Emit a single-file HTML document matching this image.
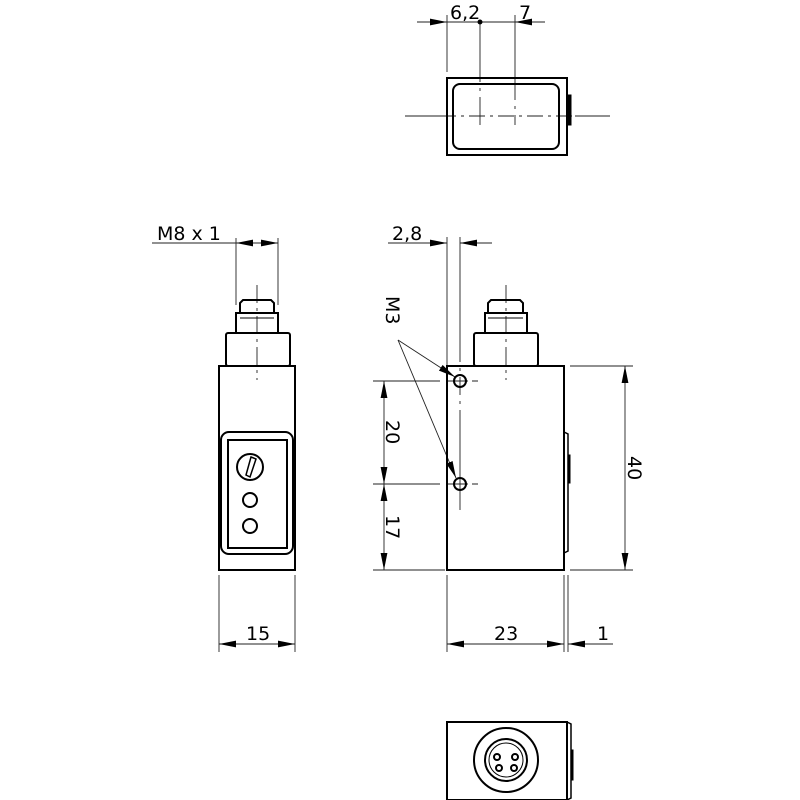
<!DOCTYPE html>
<html><head><meta charset="utf-8"><style>body{margin:0;background:#fff}svg{display:block}text{font-family:"DejaVu Sans","Liberation Sans",sans-serif;font-size:19px;fill:#000}</style></head><body>
<svg width="800" height="800" viewBox="0 0 800 800" xmlns="http://www.w3.org/2000/svg">
<defs>
<marker id="a" viewBox="0 0 10 4" refX="10" refY="2" markerWidth="17" markerHeight="7" markerUnits="userSpaceOnUse" orient="auto-start-reverse"><path d="M0,0L10,2L0,4z" fill="#000"/></marker>
</defs>
<g fill="none" stroke="#000">
<g stroke-width="0.9" stroke="#222">
<line x1="405" y1="116" x2="440" y2="116"/><line x1="575" y1="116" x2="610" y2="116"/>
<line x1="440" y1="116" x2="575" y2="116" stroke-dasharray="16,5,3,5"/>
<line x1="447" y1="15" x2="447" y2="72"/>
<line x1="480" y1="22" x2="480" y2="125" stroke-dasharray="60,6,3,6"/>
<line x1="515" y1="15" x2="515" y2="125" stroke-dasharray="85,6,3,6"/>
<line x1="417" y1="22" x2="447" y2="22" marker-end="url(#a)"/>
<line x1="447" y1="22" x2="515" y2="22"/>
<line x1="545" y1="22" x2="515" y2="22" marker-end="url(#a)"/>
</g>
<circle cx="480" cy="22" r="2.5" fill="#000" stroke="none"/>
<rect x="447" y="78" width="120" height="77" stroke-width="2"/>
<rect x="453" y="84" width="106" height="65" rx="7" stroke-width="2"/>
<rect x="567" y="95" width="4" height="30" fill="#000" stroke-width="1"/>

<g stroke-width="0.9" stroke="#222">
<line x1="257" y1="285" x2="257" y2="380" stroke-dasharray="18,5,3,5"/>
<line x1="236" y1="238" x2="236" y2="305"/><line x1="278" y1="238" x2="278" y2="305"/>
<line x1="152" y1="243" x2="236" y2="243"/>
<line x1="257" y1="243" x2="236" y2="243" marker-end="url(#a)"/>
<line x1="257" y1="243" x2="278" y2="243" marker-end="url(#a)"/>
<line x1="219" y1="575" x2="219" y2="652"/><line x1="295" y1="575" x2="295" y2="652"/>
<line x1="257" y1="644" x2="219" y2="644" marker-end="url(#a)"/>
<line x1="257" y1="644" x2="295" y2="644" marker-end="url(#a)"/>
</g>
<g stroke-width="2">
<path d="M240,313 L240,303 L243,300 L271,300 L274,303 L274,313"/>
<rect x="236" y="313" width="42" height="20"/>
<line x1="240" y1="318" x2="274" y2="318" stroke-width="1"/>
<rect x="226" y="333" width="64" height="33" rx="2"/>
<rect x="219" y="366" width="76" height="204"/>
<rect x="221" y="432" width="72" height="122" rx="8"/>
<rect x="228" y="440" width="59" height="108"/>
<circle cx="250" cy="467" r="13"/>
<circle cx="250" cy="500" r="7"/>
<circle cx="250" cy="526" r="7"/>
</g>
<path d="M251,457 L256,459 L250,477 L246,475 Z" stroke-width="1.5"/>

<g stroke-width="0.9" stroke="#222">
<line x1="506" y1="285" x2="506" y2="380" stroke-dasharray="18,5,3,5"/>
<line x1="447" y1="237" x2="447" y2="366"/>
<line x1="460" y1="237" x2="460" y2="510" stroke-dasharray="125,6,3,6,18,6,3,6"/>
<line x1="388" y1="243" x2="447" y2="243" marker-end="url(#a)"/>
<line x1="492" y1="243" x2="460" y2="243" marker-end="url(#a)"/>
<line x1="373" y1="381" x2="440" y2="381"/><line x1="448" y1="381" x2="478" y2="381" stroke-dasharray="20,4"/>
<line x1="373" y1="484" x2="440" y2="484"/><line x1="448" y1="484" x2="478" y2="484" stroke-dasharray="20,4"/>
<line x1="373" y1="570" x2="445" y2="570"/>
<line x1="384" y1="432" x2="384" y2="381" marker-end="url(#a)"/>
<line x1="384" y1="432" x2="384" y2="484" marker-end="url(#a)"/>
<line x1="384" y1="527" x2="384" y2="484" marker-end="url(#a)"/>
<line x1="384" y1="527" x2="384" y2="570" marker-end="url(#a)"/>
<line x1="570" y1="366" x2="633" y2="366"/><line x1="570" y1="570" x2="633" y2="570"/>
<line x1="625" y1="468" x2="625" y2="366" marker-end="url(#a)"/>
<line x1="625" y1="468" x2="625" y2="570" marker-end="url(#a)"/>
<line x1="447" y1="575" x2="447" y2="652"/><line x1="564" y1="575" x2="564" y2="652"/><line x1="568" y1="575" x2="568" y2="652"/>
<line x1="506" y1="644" x2="447" y2="644" marker-end="url(#a)"/>
<line x1="506" y1="644" x2="564" y2="644" marker-end="url(#a)"/>
<line x1="613" y1="644" x2="568" y2="644" marker-end="url(#a)"/>
<line x1="398" y1="340" x2="455" y2="377" marker-end="url(#a)"/>
<line x1="398" y1="340" x2="456" y2="478" marker-end="url(#a)"/>
</g>
<g stroke-width="2">
<path d="M488,313 L488,303 L491,300 L520,300 L523,303 L523,313"/>
<rect x="485" y="313" width="42" height="20"/>
<line x1="488" y1="318" x2="523" y2="318" stroke-width="1"/>
<rect x="474" y="333" width="64" height="33" rx="2"/>
<rect x="447" y="366" width="117" height="204"/>
<path d="M564,432 L568,434 L568,551 L564,553" stroke-width="1.5"/>
<rect x="568" y="455" width="2" height="28" fill="#000" stroke-width="1"/>
<circle cx="460" cy="381" r="6"/>
<circle cx="460" cy="484" r="6"/>
</g>

<g stroke-width="2">
<rect x="447" y="722" width="120" height="78"/>
<path d="M567,722 L571,724 L571,798 L567,800" stroke-width="1.5"/>
<rect x="571" y="750" width="2" height="30" fill="#000" stroke-width="1"/>
<circle cx="506" cy="760" r="32"/>
<circle cx="506" cy="760" r="21"/>
<circle cx="506" cy="760" r="17" stroke-width="1"/>
<circle cx="497" cy="757" r="3"/><circle cx="515" cy="757" r="3"/>
<circle cx="499" cy="768" r="3"/><circle cx="514" cy="768" r="3"/>
</g>
</g>

<text x="450" y="19">6,2</text>
<text x="519" y="19">7</text>
<text x="157" y="240">M8 x 1</text>
<text x="392" y="240">2,8</text>
<text x="246" y="640">15</text>
<text x="494" y="640">23</text>
<text x="597" y="640">1</text>
<text transform="translate(386,296) rotate(90)">M3</text>
<text transform="translate(386,420) rotate(90)">20</text>
<text transform="translate(386,515) rotate(90)">17</text>
<text transform="translate(628,456) rotate(90)">40</text>
</svg>
</body></html>
